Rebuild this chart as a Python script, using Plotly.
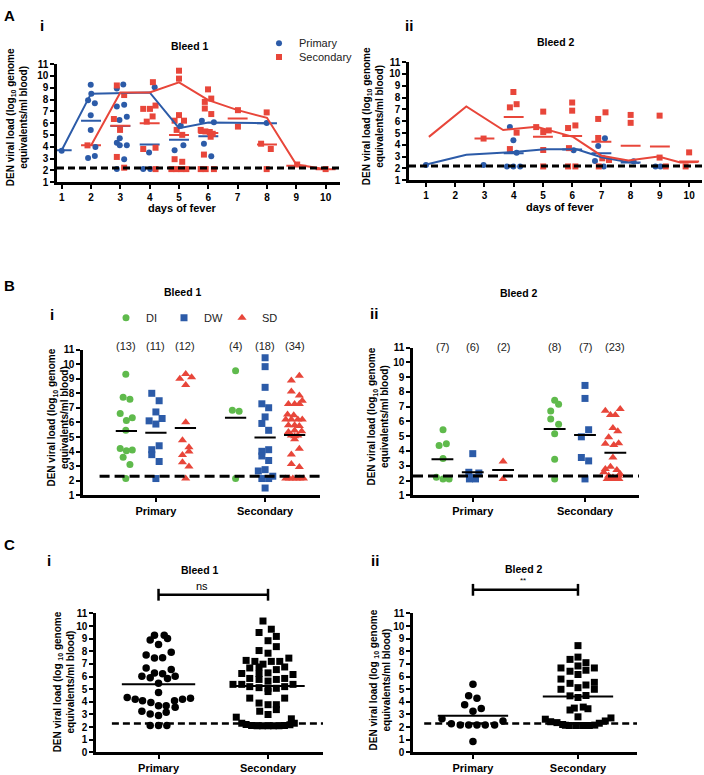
import plotly.graph_objects as go

W, H = 704, 775
FONT = "Liberation Sans"
BLUE, RED, GREEN = "#2C5BA8", "#E8463A", "#5FBA4C"

# ---------------- Panel A : viral load by day of fever ----------------
a_days = list(range(1, 11))
a_lod = 2.2

# Bleed 1
a1_pri_x = [1.0, 1.99, 2.01, 1.9, 2.13, 1.99, 1.99, 2.15, 2.13, 1.9,
            3.1, 2.88, 2.88, 3.13, 3.22, 2.97, 2.88, 2.98, 2.98, 3.22, 3.13, 2.88,
            4.17, 3.98, 3.78, 4.02, 5.06, 5.15, 4.85,
            5.78, 6.19, 5.85, 6.1, 5.78, 7.99]
a1_pri_y = [3.67, 9.25, 8.5, 7.94, 7.69, 6.68, 5.43, 3.98, 3.23, 3.06,
            9.27, 8.94, 7.41, 7.55, 6.54, 6.26, 4.34, 4.73, 4.12, 4.12, 2.95, 2.11,
            9.05, 3.51, 2.11, 2.11, 5.79, 4.12, 3.7,
            6.21, 6.07, 4.26, 3.2, 2.11, 6.01]
a1_sec_x = [1.88,
            2.88, 3.13, 2.78, 2.99, 2.88, 3.13,
            4.11, 3.78, 4.01, 4.2, 4.1, 3.9, 3.78, 4.2, 4.2,
            5.0, 5.0, 5.0, 5.17, 4.85, 4.92, 5.11, 4.85, 5.11, 4.74, 4.91, 5.08, 5.25,
            5.99, 6.1, 5.88, 5.88, 6.1, 5.74, 5.9, 6.05, 6.15, 6.08, 5.85, 5.74, 5.91, 6.19,
            7.01, 7.01, 7.99, 7.8, 8.13, 7.99, 9.03, 10.0]
a1_sec_y = [4.12,
            9.19, 8.38, 6.35, 5.43, 3.14, 2.23,
            9.47, 7.21, 7.21, 7.49, 6.57, 6.13, 3.81, 3.92, 2.11,
            10.44, 9.77, 6.68, 6.21, 6.21, 5.43, 5.01, 2.95, 2.73, 2.11, 2.11, 2.11, 2.11,
            8.86, 8.08, 7.8, 7.24, 6.77, 5.43, 5.3, 5.25, 5.1, 4.85, 3.34, 2.11, 2.11, 2.11,
            7.1, 5.71, 6.91, 4.26, 3.81, 2.11, 2.5, 2.11]
a1_pri_line_x = [1, 2, 4, 5, 6, 8]
a1_pri_line_y = [3.7, 8.5, 8.6, 5.57, 6.05, 6.0]
a1_sec_line_x = [2, 3, 4, 5, 6, 7, 8, 9, 10]
a1_sec_line_y = [4.1, 8.6, 8.6, 9.45, 7.95, 7.1, 6.45, 2.5, 2.1]
a1_pri_mean_day = [1, 2, 3, 4, 5, 6, 8]
a1_pri_mean = [3.7, 6.2, 5.75, 4.2, 4.6, 4.9, 6.0]
a1_sec_mean_day = [2, 3, 4, 5, 6, 7, 8, 9, 10]
a1_sec_mean = [4.12, 5.78, 6.0, 5.0, 5.17, 6.4, 4.2, 2.4, 2.1]

# Bleed 2
a2_pri_x = [1.0, 2.97, 3.87, 3.99, 4.1, 3.77, 3.99, 4.22, 6.05, 6.89, 7.12, 6.78, 7.08, 8.1, 8.85, 9.02]
a2_pri_y = [2.3, 2.3, 5.5, 4.39, 3.33, 2.17, 2.17, 2.17, 3.55, 3.89, 4.55, 2.62, 2.17, 2.6, 2.17, 2.17]
a2_sec_x = [2.97,
            3.99, 3.87, 4.1, 4.1, 3.87,
            5.01, 4.77, 5.01, 5.2, 5.01, 5.01,
            6.0, 6.0, 6.11, 5.86, 5.89, 5.86, 6.11,
            6.89, 7.14, 6.89, 7.03, 7.26, 6.91,
            8.0, 8.0, 8.99, 8.99, 9.2, 10.0, 9.88]
a2_sec_y = [4.53,
            8.47, 7.17, 7.44, 5.03, 3.64,
            6.81, 5.5, 5.08, 5.22, 3.56, 2.17,
            7.58, 6.89, 5.64, 5.42, 3.72, 2.17, 2.17,
            6.19, 6.75, 4.58, 2.86, 2.72, 2.17,
            6.53, 5.86, 6.47, 2.92, 2.17, 3.36, 2.17]
a2_pri_line_x = [1.05, 2.38, 4.0, 5.07, 6.15, 7.0, 7.9, 8.3]
a2_pri_line_y = [2.35, 3.15, 3.4, 3.62, 3.62, 2.95, 2.55, 2.45]
a2_sec_line_x = [1.1, 2.38, 3.64, 4.78, 6.03, 7.0, 7.92, 8.95, 9.7, 10.3]
a2_sec_line_y = [4.67, 7.25, 5.25, 5.53, 4.67, 3.08, 2.67, 3.0, 2.5, 2.55]
a2_pri_mean_day = [4, 6, 7, 8]
a2_pri_mean = [3.28, 3.6, 3.28, 2.5]
a2_sec_mean_day = [3, 4, 5, 6, 7, 8, 9, 10]
a2_sec_mean = [4.53, 6.35, 4.68, 4.75, 4.25, 3.93, 3.86, 2.58]

# ---------------- Panel B : by disease severity ----------------
b_groups = ["DI", "DW", "SD"]
b_phases = ["Primary", "Secondary"]
b_lod = 2.3

b1_pri_di = [9.31, 7.73, 7.6, 6.61, 6.32, 6.14, 5.46, 4.22, 4.06, 4.11, 3.61, 3.12, 2.15]
b1_pri_di_jit = [-0.02, -0.11, 0.12, -0.21, 0.2, 0, -0.02, -0.21, 0, 0.2, -0.11, 0.12, -0.02]
b1_pri_dw = [8.0, 7.49, 6.72, 6.11, 6.27, 5.89, 4.4, 4.13, 3.79, 3.32, 2.15]
b1_pri_dw_jit = [-0.14, 0.11, 0, -0.23, 0.21, 0, 0.11, -0.14, -0.14, 0.11, 0]
b1_pri_sd = [9.0, 9.33, 9.1, 8.57, 6.02, 4.78, 4.29, 4.0, 3.77, 3.27, 2.98, 2.15]
b1_pri_sd_jit = [-0.19, 0.01, 0.21, 0.01, 0.01, -0.1, 0.12, 0.12, -0.1, -0.1, 0.12, 0.01]
b1_sec_di = [9.54, 6.83, 6.77, 2.15]
b1_sec_di_jit = [0, -0.11, 0.12, 0]
b1_sec_dw = [10.44, 9.83, 8.41, 7.28, 7.01, 6.38, 5.93, 5.46, 4.02, 3.7, 4.13, 3.39, 2.76, 2.67, 2.31, 2.15, 2.15, 1.5]
b1_sec_dw_jit = [0, 0, 0, -0.11, 0.12, 0, -0.11, 0.12, -0.11, -0.11, 0.12, 0.12, 0, -0.23, 0.26, -0.11, 0.12, 0]
b1_sec_sd = [9.2, 8.88, 8.12, 7.85, 7.49, 7.26, 7.26, 7.26, 6.55, 6.5, 6.2, 6.2, 6.2, 6.2,
             5.8, 5.8, 5.75, 5.45, 5.4, 5.35, 5.1, 5.1, 5.05, 4.85, 4.2, 3.8, 3.15, 2.95,
             2.15, 2.15, 2.15, 2.15, 2.15, 2.15]
b1_sec_sd_jit = [0.16, -0.11, -0.11, 0.16, 0.26, -0.21, 0.0, 0.16, -0.24, -0.03, -0.11, 0.11, 0.26, -0.3,
                 -0.21, 0.0, 0.16, 0.0, 0.24, -0.21, -0.11, 0.11, 0.0, 0.0, 0.16, -0.11, -0.11, 0.16,
                 -0.3, -0.18, -0.06, 0.06, 0.18, 0.3]
b1_pri_mean = [5.41, 5.3, 5.62]
b1_sec_mean = [6.33, 4.96, 5.14]

b2_pri_di = [5.44, 4.38, 4.49, 3.49, 2.22, 2.11, 2.11]
b2_pri_di_jit = [0.02, -0.11, 0.13, 0.02, -0.2, 0.02, 0.22]
b2_pri_dw = [3.82, 2.56, 2.51, 2.11, 2.11, 2.2]
b2_pri_dw_jit = [0, -0.13, 0.2, -0.11, 0.09, -0.02]
b2_pri_sd = [3.29, 2.11]
b2_pri_sd_jit = [0, 0]
b2_sec_di = [7.44, 7.16, 6.71, 6.16, 5.82, 5.16, 3.44, 2.11]
b2_sec_di_jit = [0, 0.13, -0.13, -0.13, 0.13, 0, 0, 0]
b2_sec_dw = [8.44, 7.56, 5.44, 4.96, 3.56, 3.33, 2.11]
b2_sec_dw_jit = [0, 0, 0.12, -0.12, -0.12, 0.12, 0]
b2_sec_sd = [6.73, 6.84, 6.44, 6.44, 5.56, 5.33, 4.93, 4.49, 4.4, 4.53, 3.56, 2.78,
             2.93, 2.71, 2.56, 2.45, 2.33, 2.33, 2.11, 2.11, 2.11, 2.11, 2.2]
b2_sec_sd_jit = [-0.33, 0.16, -0.16, 0, -0.08, 0.08, -0.22, -0.33, -0.05, 0.11, -0.08, -0.33,
                 -0.16, 0.05, -0.38, 0.16, -0.22, 0.11, -0.27, -0.14, -0.01, 0.12, -0.08]
b2_pri_mean = [3.44, 2.56, 2.71]
b2_sec_mean = [5.49, 5.09, 3.89]

# ---------------- Panel C : primary vs secondary ----------------
c_cats = ["Primary", "Secondary"]
c_lod = 2.28

c1_pri = [9.28, 9.28, 8.9, 9.02, 8.53, 7.7, 7.46, 7.49, 7.93, 6.68, 6.55, 6.03, 5.9, 6.29, 6.22, 5.85,
          6.03, 5.46, 4.73, 4.34, 4.21, 4.08, 3.95, 3.69, 3.69, 4.08, 4.21, 4.29, 3.56, 3.25, 3.04,
          2.91, 3.17, 2.13, 2.13, 2.13]
c1_pri_jit = [-0.037, 0.052, -0.076, 0.082, 0, -0.113, -0.037, 0.037, 0.116, -0.113, 0.116, -0.152,
              -0.076, -0.037, 0.037, 0.082, 0.152, 0, 0, -0.286, -0.213, -0.146, -0.07, 0, 0.07,
              0.146, 0.219, 0.292, 0.152, -0.152, -0.076, 0, 0.07, -0.076, 0, 0.076]
c1_sec = [10.4, 9.75, 9.49, 9.18, 8.84, 8.37, 8.06, 7.85, 7.46, 7.28, 7.2, 6.98, 7.2, 7.2, 6.76,
          6.76, 6.68, 6.55, 6.24, 6.16, 6.29, 6.24, 5.85, 5.85, 5.77, 5.77, 5.64, 5.38, 5.38, 5.38,
          5.2, 5.12, 5.07, 5.07, 5.2, 4.81, 4.29, 4.29, 3.9, 3.77, 3.77, 3.25, 3.38, 2.99, 2.78, 2.65,
          2.3, 2.2, 2.12, 2.1, 2.1, 2.1, 2.1, 2.1, 2.12, 2.18, 2.3]
c1_sec_jit = [-0.046, 0.03, -0.082, 0.076, 0, 0.076, -0.082, 0, 0.19, -0.2, -0.12, -0.046, 0.03, 0.107,
              0.152, -0.082, -0.167, 0.076, -0.24, 0.228, 0, -0.082, -0.167, 0.152, 0.076, -0.082,
              0, -0.24, 0.228, -0.32, -0.167, -0.082, 0, 0.076, 0.152, 0, -0.167, 0.152, -0.082, 0,
              0.076, -0.076, 0.076, 0, -0.29, 0.213,
              -0.24, -0.2, -0.15, -0.1, -0.05, 0, 0.05, 0.1, 0.15, 0.2, 0.24]
c1_mean = [5.38, 5.25]

c2_pri = [5.38, 4.47, 4.29, 3.77, 3.46, 3.25, 2.65, 2.47, 2.26, 2.16, 2.16, 2.16, 2.16, 2.16, 0.86]
c2_pri_jit = [0, -0.041, 0.038, -0.079, 0.079, 0, -0.295, 0.286, -0.206, -0.121, -0.041, 0.038,
              0.117, 0.206, 0]
c2_sec = [8.45, 7.54, 7.36, 7.1, 6.84, 6.68, 6.68, 6.42, 6.5, 6.16, 5.8, 5.54, 5.46, 5.33, 5.12,
          4.99, 4.99, 4.47, 4.34, 4.5, 3.35, 3.5, 3.58, 3.45, 2.81,
          2.62, 2.42, 2.35, 2.2, 2.12, 2.12, 2.12, 2.12, 2.15, 2.3, 2.48, 2.72, 2.14]
c2_sec_jit = [0, 0, -0.076, 0.076, 0, -0.162, 0.156, -0.076, 0.076, 0, -0.162, 0.156, -0.076, 0.076,
              0, -0.162, 0.156, -0.076, 0, 0.076, -0.076, -0.035, 0.05, 0.095, 0,
              -0.311, -0.26, -0.2, -0.146, -0.083, -0.019, 0.044, 0.108, 0.16, 0.203, 0.26, 0.314, -0.12]
c2_mean = [2.89, 4.42]


# ---------------- helpers ----------------
def px(x):
    return x / W


def py(y):
    return 1 - y / H


def bars(centers, values, half):
    xs, ys = [], []
    for c, v in zip(centers, values):
        xs += [c - half, c + half, None]
        ys += [v, v, None]
    return xs, ys


fig = go.Figure()
TICKFONT = dict(family=FONT, size=10, color="black", weight="bold")


def axis(domain, rng, **kw):
    d = dict(domain=domain, range=rng, showline=True, linewidth=2.5, linecolor="black",
             ticks="outside", ticklen=4, tickwidth=2, tickcolor="black", tickfont=TICKFONT,
             showgrid=False, zeroline=False)
    d.update(kw)
    return d


# ----- Panel A traces -----
for k, (xa, ya, px_, py_, sx, sy, plx, ply, slx, sly, pmd, pm, smd, sm) in enumerate([
    ("x", "y", a1_pri_x, a1_pri_y, a1_sec_x, a1_sec_y, a1_pri_line_x, a1_pri_line_y,
     a1_sec_line_x, a1_sec_line_y, a1_pri_mean_day, a1_pri_mean, a1_sec_mean_day, a1_sec_mean),
    ("x2", "y2", a2_pri_x, a2_pri_y, a2_sec_x, a2_sec_y, a2_pri_line_x, a2_pri_line_y,
     a2_sec_line_x, a2_sec_line_y, a2_pri_mean_day, a2_pri_mean, a2_sec_mean_day, a2_sec_mean),
]):
    bx, by = bars(pmd, pm, 0.34)
    fig.add_trace(go.Scatter(x=bx, y=by, mode="lines", line=dict(color=BLUE, width=2),
                             xaxis=xa, yaxis=ya, showlegend=False, hoverinfo="skip"))
    bx, by = bars(smd, sm, 0.34)
    fig.add_trace(go.Scatter(x=bx, y=by, mode="lines", line=dict(color=RED, width=2),
                             xaxis=xa, yaxis=ya, showlegend=False, hoverinfo="skip"))
    fig.add_trace(go.Scatter(x=px_, y=py_, mode="markers", name="Primary",
                             marker=dict(symbol="circle", size=6, color=BLUE),
                             xaxis=xa, yaxis=ya, showlegend=(k == 0), legend="legend",
                             cliponaxis=False))
    fig.add_trace(go.Scatter(x=sx, y=sy, mode="markers", name="Secondary",
                             marker=dict(symbol="square", size=6, color=RED),
                             xaxis=xa, yaxis=ya, showlegend=(k == 0), legend="legend3",
                             cliponaxis=False))
    fig.add_trace(go.Scatter(x=plx, y=ply, mode="lines", line=dict(color=BLUE, width=2),
                             xaxis=xa, yaxis=ya, showlegend=False, hoverinfo="skip"))
    fig.add_trace(go.Scatter(x=slx, y=sly, mode="lines", line=dict(color=RED, width=2),
                             xaxis=xa, yaxis=ya, showlegend=False, hoverinfo="skip"))

# ----- Panel B traces -----
b_colors = [GREEN, BLUE, RED]
b_symbols = ["circle", "square", "triangle-up"]
b_sizes = [7, 7, 8]
b_phase_x = [0, 3.7]
b_panels = [
    ("x3", "y3", 345, [[b1_pri_di, b1_pri_dw, b1_pri_sd], [b1_sec_di, b1_sec_dw, b1_sec_sd]],
     [[b1_pri_di_jit, b1_pri_dw_jit, b1_pri_sd_jit], [b1_sec_di_jit, b1_sec_dw_jit, b1_sec_sd_jit]],
     [b1_pri_mean, b1_sec_mean]),
    ("x4", "y4", 346, [[b2_pri_di, b2_pri_dw, b2_pri_sd], [b2_sec_di, b2_sec_dw, b2_sec_sd]],
     [[b2_pri_di_jit, b2_pri_dw_jit, b2_pri_sd_jit], [b2_sec_di_jit, b2_sec_dw_jit, b2_sec_sd_jit]],
     [b2_pri_mean, b2_sec_mean]),
]
annotations = []
for k, (xa, ya, count_y, vals, jits, means) in enumerate(b_panels):
    for p in range(2):
        for g in range(3):
            cx = b_phase_x[p] + (g - 1)
            fig.add_trace(go.Scatter(
                x=[cx + j for j in jits[p][g]], y=vals[p][g], mode="markers", name=b_groups[g],
                marker=dict(symbol=b_symbols[g], size=b_sizes[g], color=b_colors[g]),
                xaxis=xa, yaxis=ya, legend="legend2",
                showlegend=(k == 0 and p == 0), cliponaxis=False))
            annotations.append(dict(text=f"({len(vals[p][g])})", x=cx, y=py(count_y), xref=xa,
                                    yref="paper", showarrow=False,
                                    font=dict(family=FONT, size=11, color="#222"),
                                    xanchor="center", yanchor="middle"))
        bx, by = bars([b_phase_x[p] + g - 1 for g in range(3)], means[p], 0.36)
        fig.add_trace(go.Scatter(x=bx, y=by, mode="lines", line=dict(color="black", width=2),
                                 xaxis=xa, yaxis=ya, showlegend=False, hoverinfo="skip"))

# ----- Panel C traces -----
for xa, ya, pv, pj, sv, sj, means in [
    ("x5", "y5", c1_pri, c1_pri_jit, c1_sec, c1_sec_jit, c1_mean),
    ("x6", "y6", c2_pri, c2_pri_jit, c2_sec, c2_sec_jit, c2_mean),
]:
    fig.add_trace(go.Scatter(x=[0 + j for j in pj], y=pv, mode="markers",
                             marker=dict(symbol="circle", size=7.5, color="black"),
                             xaxis=xa, yaxis=ya, showlegend=False, cliponaxis=False))
    fig.add_trace(go.Scatter(x=[1 + j for j in sj], y=sv, mode="markers",
                             marker=dict(symbol="square", size=7, color="black"),
                             xaxis=xa, yaxis=ya, showlegend=False, cliponaxis=False))
    bx, by = bars([0, 1], means, 0.335)
    fig.add_trace(go.Scatter(x=bx, y=by, mode="lines", line=dict(color="black", width=2),
                             xaxis=xa, yaxis=ya, showlegend=False, hoverinfo="skip"))

# ----- Axes -----
ytick = list(range(1, 12))
ytickc = list(range(0, 12))
CATFONT = dict(family=FONT, size=11, color="black", weight="bold")
fig.update_layout(
    xaxis=axis([px(57), px(340)], [0.84, 10.49], tickvals=a_days, anchor="y"),
    yaxis=axis([py(179), py(59)], [1, 11], tickvals=ytick, anchor="x"),
    xaxis2=axis([px(409), px(702)], [0.42, 10.44], tickvals=a_days, anchor="y2"),
    yaxis2=axis([py(177), py(57)], [1, 11], tickvals=ytick, anchor="x2"),
    xaxis3=axis([px(83), px(320)], [-2.47, 5.56], tickvals=b_phase_x, ticktext=b_phases,
                anchor="y3", tickfont=CATFONT),
    yaxis3=axis([py(497), py(349)], [1, 11], tickvals=ytick, anchor="x3"),
    xaxis4=axis([px(413), px(639)], [-1.97, 5.48], tickvals=b_phase_x, ticktext=b_phases,
                anchor="y4", tickfont=CATFONT),
    yaxis4=axis([py(497), py(347)], [1, 11], tickvals=ytick, anchor="x4"),
    xaxis5=axis([px(96), px(323)], [-0.571, 1.502], tickvals=[0, 1], ticktext=c_cats,
                anchor="y5", tickfont=CATFONT),
    yaxis5=axis([py(758), py(617)], [0, 11], tickvals=ytickc, anchor="x5"),
    xaxis6=axis([px(413), px(637)], [-0.571, 1.562], tickvals=[0, 1], ticktext=c_cats,
                anchor="y6", tickfont=CATFONT),
    yaxis6=axis([py(758), py(617)], [0, 11], tickvals=ytickc, anchor="x6"),
)

# ----- LOD dashed lines and brackets -----
shapes = []
for xa, ya, lod, dash, w, x0 in [("x", "y", a_lod, "7px,4px", 3, 0), ("x2", "y2", a_lod, "7px,4px", 3, 0),
                                 ("x3", "y3", b_lod, "10px,5px", 3, 0.07), ("x4", "y4", b_lod, "10px,5px", 3, 0),
                                 ("x5", "y5", c_lod, "7px,4px", 2.5, 0.07), ("x6", "y6", c_lod, "7px,4px", 2.5, 0.05)]:
    shapes.append(dict(type="line", xref=f"{xa} domain", yref=ya, x0=x0, x1=1, y0=lod, y1=lod,
                       line=dict(color="black", width=w, dash=dash), layer="above"))
for xa, ybar, cap in [("x5", 598, 6), ("x6", 593, 6)]:
    shapes.append(dict(type="line", xref=xa, yref="paper", x0=0, x1=1, y0=py(ybar), y1=py(ybar),
                       line=dict(color="black", width=2.5)))
    for xc in (0, 1):
        shapes.append(dict(type="line", xref=xa, yref="paper", x0=xc, x1=xc,
                           y0=py(ybar - cap), y1=py(ybar + cap), line=dict(color="black", width=2.5)))


def ann(text, x, y, size, bold=True, angle=0, color="black"):
    t = f"<b>{text}</b>" if bold else text
    return dict(text=t, x=px(x), y=py(y), xref="paper", yref="paper", showarrow=False,
                xanchor="center", yanchor="middle", textangle=angle,
                font=dict(family=FONT, size=size, color=color))


ytitle = "DEN viral load (log<sub>10</sub> genome<br>equivalents/ml blood)"
ytitle_c = "DEN viral load (log <sub>10</sub> genome<br>equivalents/ml blood)"
annotations += [
    ann("A", 9, 10, 15), ann("B", 9, 284, 15), ann("C", 9, 547, 15),
    ann("i", 42, 20, 15), ann("ii", 409, 20, 15),
    ann("i", 52, 313, 15), ann("ii", 374, 312, 15),
    ann("i", 49, 563, 15), ann("ii", 375, 563, 15),
    ann("Bleed 1", 190, 41, 10.5), ann("Bleed 2", 556, 37, 10.5),
    ann("Bleed 1", 183, 290, 10.5), ann("Bleed 2", 519, 292, 10.5),
    ann("Bleed 1", 200, 573, 10.5), ann("Bleed 2", 524, 572, 10.5),
    ann("days of fever", 182, 205, 11), ann("days of fever", 560, 204, 11),
    ann("ns", 202, 589, 11, bold=False), ann("**", 523, 584, 8, bold=False),
    ann(ytitle, 17, 113, 10, angle=-90), ann(ytitle, 373, 112, 10, angle=-90),
    ann(ytitle, 58, 418, 10, angle=-90), ann(ytitle, 378, 417, 10, angle=-90),
    ann(ytitle_c, 64, 687, 10, angle=-90), ann(ytitle_c, 380, 685, 10, angle=-90),
]

LEGFONT = dict(family=FONT, size=11, color="#222")
fig.update_layout(
    width=W, height=H, autosize=False, margin=dict(l=0, r=0, t=0, b=0),
    paper_bgcolor="white", plot_bgcolor="white",
    font=dict(family=FONT, color="black"),
    shapes=shapes, annotations=annotations,
    legend=dict(x=px(259), y=py(23), xanchor="left", yanchor="top", bgcolor="rgba(0,0,0,0)",
                font=LEGFONT, itemwidth=30),
    legend3=dict(x=px(259), y=py(37), xanchor="left", yanchor="top", bgcolor="rgba(0,0,0,0)",
                 font=LEGFONT, itemwidth=30),
    legend2=dict(x=px(106), y=py(302), xanchor="left", yanchor="top", orientation="h",
                 bgcolor="rgba(0,0,0,0)", font=LEGFONT,
                 entrywidth=13, entrywidthmode="pixels", itemwidth=30),
)

fig.write_html("out.html", config={"displayModeBar": False},
               post_script="document.body.style.margin='0';document.body.style.overflow='hidden';")
